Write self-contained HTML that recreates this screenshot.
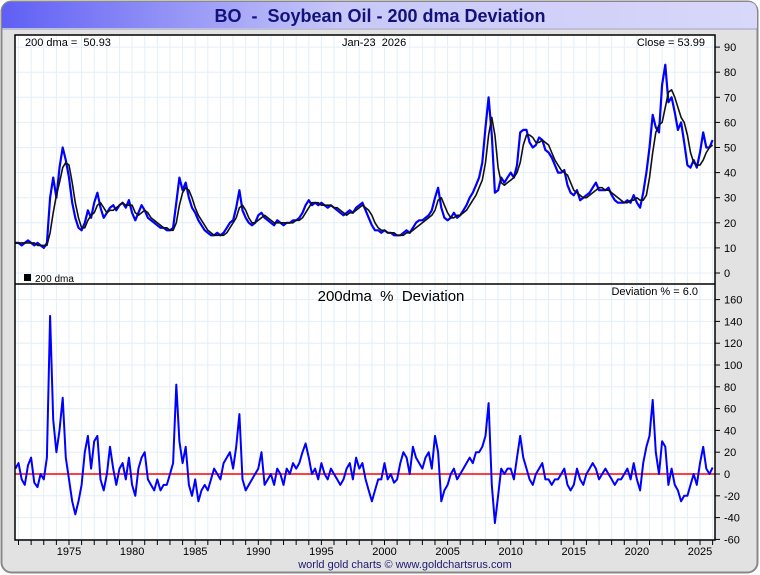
<!DOCTYPE html>
<html><head><meta charset="utf-8"><style>
body{margin:0;background:#fff;font-family:"Liberation Sans",sans-serif}
svg{display:block}
text{white-space:pre}
</style></head><body>
<svg id="chart" width="760" height="575" xmlns="http://www.w3.org/2000/svg">
<defs><linearGradient id="tg" x1="0" x2="1"><stop offset="0" stop-color="#5f5ff5"/><stop offset="0.45" stop-color="#c8c8f8"/><stop offset="1" stop-color="#d8d8fa"/></linearGradient></defs>
<rect x="1.5" y="1.5" width="756" height="571" rx="10" fill="#e2e2e2" stroke="#888" stroke-width="2"/>
<path d="M2,28 L2,12 Q2,2 12,2 L748,2 Q757,2 757,12 L757,28 Z" fill="url(#tg)"/>
<line x1="2" y1="29" x2="757" y2="29" stroke="#9a9ad0" stroke-width="1"/>
<text x="380" y="22" text-anchor="middle" font-size="18" font-weight="bold" fill="#12127a" xml:space="preserve">BO  -  Soybean Oil - 200 dma Deviation</text>
<rect x="15" y="35" width="700" height="505" fill="#fff"/>
<g id="grid"></g>
<g id="marks"></g>
<rect x="15" y="35" width="700" height="505" fill="none" stroke="#000" stroke-width="1.5"/>
<line x1="15" y1="284" x2="715" y2="284" stroke="#000" stroke-width="1.5"/>
<g id="axes"></g>
<g font-size="11" fill="#000">
<text x="25" y="46" xml:space="preserve">200 dma =  50.93</text>
<text x="342" y="46" xml:space="preserve">Jan-23  2026</text>
<text x="705" y="46" text-anchor="end">Close = 53.99</text>
<rect x="24" y="274" width="7" height="7" fill="#000"/>
<text x="35" y="282" font-size="10">200 dma</text>
<text x="698" y="295" text-anchor="end">Deviation % = 6.0</text>
</g>
<text x="391" y="301" text-anchor="middle" font-size="15" xml:space="preserve">200dma  %  Deviation</text>
<text x="405" y="568" text-anchor="middle" font-size="11" fill="#1a1a70">world gold charts © www.goldchartsrus.com</text>
</svg>
<script>
const startYear = 1970.75;
const step = 0.25;
const priceVals = [12,
12,11,12,13, 12,11,12,11, 10,12,30,38, 30,42,50,45, 38,28,22,18, 17,20,25,22, 28,32,26,22, 24,26,27,25, 27,28,26,29, 24,21,24,27,
25,22,21,20, 19,18,18,17, 17,18,28,38, 33,36,30,26, 24,21,19,17, 16,15,15,16, 15,16,18,20, 21,26,33,25, 22,20,19,20, 23,24,22,21,
20,19,21,20, 19,20,20,21, 21,22,24,27, 29,27,28,27, 28,27,26,27, 26,25,24,23, 24,25,24,26, 27,28,25,22, 19,17,17,16, 17,16,16,15,
15,15,16,17, 16,18,20,21, 21,22,23,25, 30,34,26,22, 21,22,24,22, 23,25,27,30, 32,35,38,44, 58,70,55,32, 33,38,36,38, 40,38,43,56,
57,57,52,50, 51,54,53,49, 48,46,43,40, 40,41,35,32, 31,33,29,30, 31,32,34,36, 33,33,33,34, 31,29,28,28, 28,29,28,31, 28,26,32,40,
50,63,58,56, 75,83,68,70, 64,57,60,52, 43,42,45,42, 48,56,50,50, 53];
const dmaVals = [12,
12,12,12,12, 12,12,11,11, 11,11,16,24, 31,36,42,44, 43,36,28,22, 18,18,21,23, 24,27,28,26, 24,25,25,26, 27,28,27,27, 27,24,23,24,
25,24,22,21, 20,19,18,18, 17,17,20,27, 32,34,33,30, 26,23,21,19, 17,16,15,15, 15,15,16,18, 20,22,26,27, 25,22,20,20, 21,22,23,22,
21,20,20,20, 20,20,20,20, 21,21,22,24, 26,28,28,28, 27,27,27,27, 26,26,25,24, 23,24,24,25, 26,27,26,25, 23,20,18,17, 17,16,16,16,
15,15,15,16, 16,17,18,19, 20,21,22,23, 25,29,30,27, 24,22,22,23, 23,24,25,27, 29,31,34,37, 44,55,62,55, 42,36,35,36, 37,38,40,44,
51,55,55,54, 52,52,53,52, 51,48,45,43, 41,40,39,36, 33,32,31,30, 30,31,32,33, 34,34,33,33, 32,31,30,29, 28,28,29,29, 30,29,29,31,
38,48,56,59, 60,66,72,73, 70,66,62,60, 55,48,44,43, 43,45,48,50, 51];
const devVals = [5,
10,-5,-10,8, 15,-8,-12,0, -5,15,145,50, 20,40,70,15, -5,-25,-37,-25, -10,20,35,5, 30,35,-5,-15, 0,25,5,-10, 5,10,-5,15, -10,-20,5,15,
20,-5,-10,-15, -5,-15,-10,-10, 0,10,82,30, 10,25,-10,-20, -5,-25,-15,-10, -15,-5,5,0, -5,10,15,20, 5,25,55,-5, -15,-10,-5,0, 5,20,-10,-5,
0,-10,5,0, -10,5,0,10, 5,10,20,28, 15,0,5,-5, 10,0,-5,5, 0,-5,-10,-5, 5,10,-5,15, 5,10,-5,-15, -25,-15,-5,-5, 10,-5,0,-8,
-5,10,20,15, 0,25,15,10, 5,15,20,5, 35,20,-25,-15, -10,0,5,-5, 0,5,10,15, 10,20,20,25, 35,65,-10,-45, -20,5,0,5, 5,-5,15,35,
15,5,-5,-10, 0,5,10,-5, -5,-10,-5,-5, 0,5,-10,-15, -10,5,-5,-10, 0,5,10,5, -5,0,5,0, -5,-10,-5,-5, 0,5,-5,10, -5,-15,10,25,
35,68,20,0, 30,25,-10,5, -10,-15,-25,-20, -20,-10,0,-10, 10,25,5,0, 6];
const yearLabels = [1975,1980,1985,1990,1995,2000,2005,2010,2015,2020,2025];
const topTicks = [0,10,20,30,40,50,60,70,80,90];
const botTicks = [-60,-40,-20,0,20,40,60,80,100,120,140,160];

const NS = "http://www.w3.org/2000/svg";
const xs = yr => 69 + (yr - 1975) * 12.62;
const yTop = v => 273 - v * 2.51;
const yBot = v => 474 - v * 1.09;
function mk(tag, attrs, parent){const e=document.createElementNS(NS,tag);for(const k in attrs)e.setAttribute(k,attrs[k]);parent.appendChild(e);return e;}
const grid=document.getElementById('grid'), marks=document.getElementById('marks'), axes=document.getElementById('axes');

for(let yr=1971; yr<=2026; yr++){const x=xs(yr); if(x>15&&x<715){
  const l=mk('line',{x1:x,y1:35,x2:x,y2:540,stroke:'#e3eff8','stroke-width':1},grid);
  
  
  const t=mk('line',{x1:x,y1:540,x2:x,y2:545,stroke:'#000','stroke-width':1},axes);
  
  
}}
topTicks.forEach(v=>{const y=yTop(v);
  const l=mk('line',{x1:15,y1:y,x2:715,y2:y,stroke:'#e3eff8','stroke-width':1},grid);
  
  
  mk('line',{x1:715,y1:y,x2:720,y2:y,stroke:'#000'},axes);
  const t=mk('text',{x:724,y:y+4,'font-size':11},axes); t.textContent=v;
  
  
});
botTicks.forEach(v=>{const y=yBot(v);
  const l=mk('line',{x1:15,y1:y,x2:715,y2:y,stroke:'#e3eff8','stroke-width':1},grid);
  
  
  mk('line',{x1:715,y1:y,x2:720,y2:y,stroke:'#000'},axes);
  const t=mk('text',{x:724,y:y+4,'font-size':11},axes); t.textContent=v;
  
  
});
yearLabels.forEach(yr=>{
  const t=mk('text',{x:xs(yr),y:555,'font-size':11,'text-anchor':'middle'},axes); t.textContent=yr;
  
  
});
function pts(arr, yf){return arr.map((v,i)=>xs(startYear+i*step).toFixed(1)+','+yf(v).toFixed(1)).join(' ');}
const pl=mk('polyline',{points:pts(priceVals,yTop),fill:'none',stroke:'#0000ff','stroke-width':2.2,'stroke-linejoin':'round'},marks);


const dl=mk('polyline',{points:pts(dmaVals,yTop),fill:'none',stroke:'#111','stroke-width':1.6,'stroke-linejoin':'round'},marks);


const zl=mk('line',{x1:15,y1:yBot(0),x2:715,y2:yBot(0),stroke:'#ff0000','stroke-width':1.5},marks);


const dv=mk('polyline',{points:pts(devVals,yBot),fill:'none',stroke:'#0000ff','stroke-width':2,'stroke-linejoin':'round'},marks);


</script>
</body></html>
